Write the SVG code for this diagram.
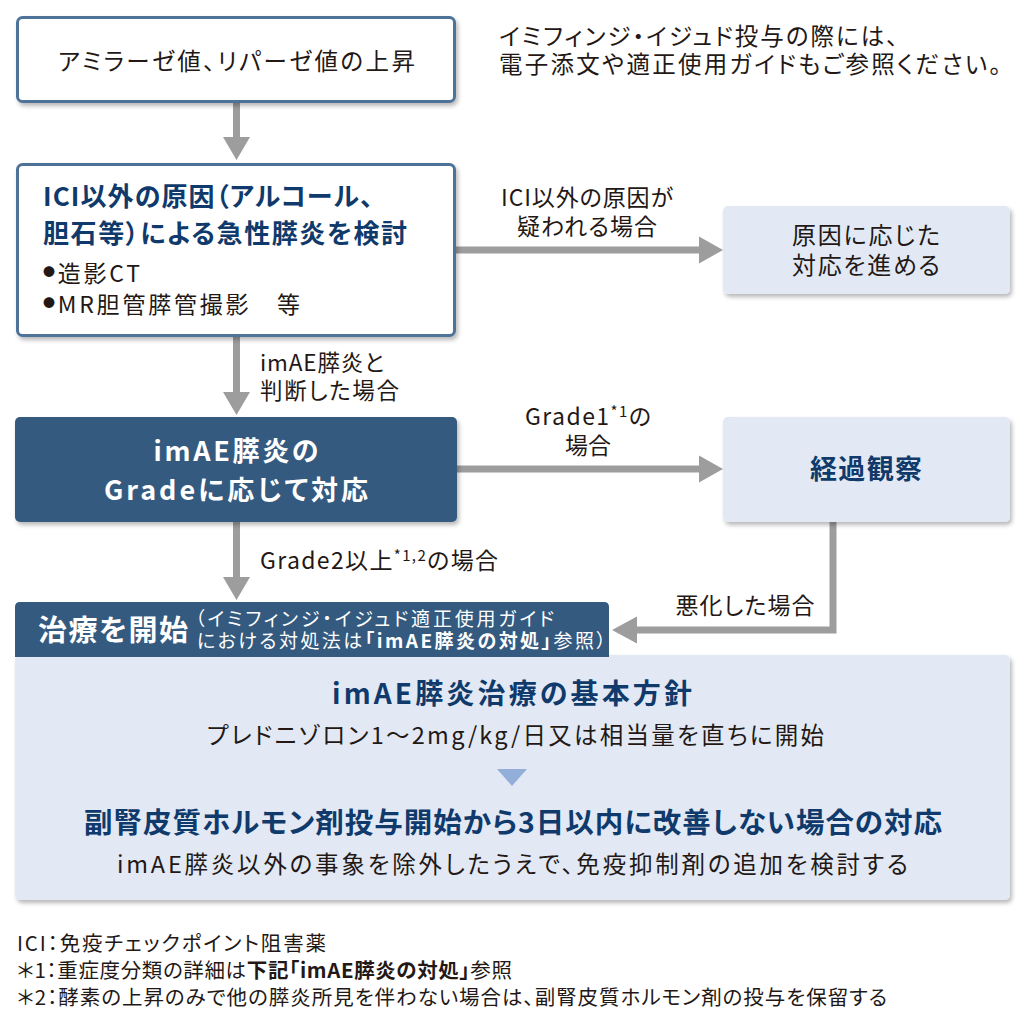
<svg xmlns="http://www.w3.org/2000/svg" width="1029" height="1029" viewBox="0 0 1029 1029">
<defs>
<style>
text{font-family:"Noto Sans CJK JP","Noto Sans",sans-serif;fill:#231815;font-feature-settings:"palt";}
.b{font-weight:700;}
.navy{fill:#0f3a6b;}
.w{fill:#ffffff;}
.m{text-anchor:middle;}
.wb{fill:#ffffff;stroke:#4f7398;stroke-width:3;}
.lt{fill:#e2e9f4;}
.dk{fill:#345a80;}
.arr{fill:#9d9d9d;}
</style>
<filter id="sh" x="-5%" y="-10%" width="110%" height="125%">
<feDropShadow dx="2" dy="3" stdDeviation="2" flood-color="#000" flood-opacity="0.28"/>
</filter>
</defs>
<rect width="1029" height="1029" fill="#fff"/>

<g id="connectors">
<path class="arr" d="M233,103 H240 V137 H250 L236.5,160 L223,137 H233 Z"/>
<path class="arr" d="M233,337 H240 V392 H250 L236.5,415 L223,392 H233 Z"/>
<path class="arr" d="M233,522 H240 V577 H250 L236.5,600 L223,577 H233 Z"/>
<path class="arr" d="M456,246.5 H699 V236.5 L723,250 L699,263.5 V253.5 H456 Z"/>
<path class="arr" d="M457,465.5 H699 V455.5 L723,469 L699,482.5 V472.5 H457 Z"/>
<path class="arr" d="M829.5,520 H836.5 V633.5 H637 V643.5 L612,630 L637,616.5 V626.5 H829.5 Z"/>
<text x="587" y="206" class="m" font-size="23" textLength="172" lengthAdjust="spacing">ICI以外の原因が</text>
<text x="587" y="235" class="m" font-size="23" textLength="140" lengthAdjust="spacing">疑われる場合</text>
<text x="260" y="371" font-size="22.5" textLength="124" lengthAdjust="spacing">imAE膵炎と</text>
<text x="260" y="399" font-size="22.5" textLength="139" lengthAdjust="spacing">判断した場合</text>
<text x="588" y="425" class="m" font-size="23" textLength="126" lengthAdjust="spacing">Grade1<tspan font-size="15" dy="-8">*1</tspan><tspan dy="8">の</tspan></text>
<text x="588" y="454" class="m" font-size="23" textLength="46" lengthAdjust="spacing">場合</text>
<text x="260" y="569" font-size="23" textLength="238" lengthAdjust="spacing">Grade2以上<tspan font-size="15" dy="-8">*1,2</tspan><tspan dy="8">の場合</tspan></text>
<text x="745" y="614" class="m" font-size="23" textLength="139" lengthAdjust="spacing">悪化した場合</text>
</g>

<g id="note-top">
<text x="499" y="45" font-size="23.5" textLength="399" lengthAdjust="spacing">イミフィンジ・イジュド投与の際には、</text>
<text x="499" y="73" font-size="23.5" textLength="502" lengthAdjust="spacing">電子添文や適正使用ガイドもご参照ください。</text>
</g>

<g id="node-amylase">
<rect class="wb" x="17.5" y="17.5" width="437" height="84" rx="5" filter="url(#sh)"/>
<text x="236.5" y="70" class="m" font-size="23.5" textLength="357" lengthAdjust="spacing">アミラーゼ値、リパーゼ値の上昇</text>
</g>

<g id="node-ici">
<rect class="wb" x="17.5" y="164.5" width="437" height="171" rx="5" filter="url(#sh)"/>
<text x="43" y="206" class="b navy" font-size="26" textLength="330" lengthAdjust="spacing">ICI以外の原因（アルコール、</text>
<text x="43" y="243" class="b navy" font-size="26" textLength="364" lengthAdjust="spacing">胆石等）による急性膵炎を検討</text>
<text x="43" y="282" font-size="23" textLength="97" lengthAdjust="spacing" style="font-feature-settings:normal"><tspan font-size="12" dy="-5">●</tspan><tspan dy="5">造影CT</tspan></text>
<text x="43" y="313" font-size="23" textLength="257" lengthAdjust="spacing" style="font-feature-settings:normal"><tspan font-size="12" dy="-5">●</tspan><tspan dy="5">MR胆管膵管撮影　等</tspan></text>
</g>

<g id="node-cause">
<rect class="lt" x="723" y="206" width="287" height="88" rx="5" filter="url(#sh)"/>
<text x="866" y="244" class="m" font-size="24" textLength="148" lengthAdjust="spacing">原因に応じた</text>
<text x="866" y="274" class="m" font-size="24" textLength="148" lengthAdjust="spacing">対応を進める</text>
</g>

<g id="node-grade">
<rect class="dk" x="15" y="417" width="442" height="105" rx="5" filter="url(#sh)"/>
<text x="236" y="461" class="m b w" font-size="27" textLength="165" lengthAdjust="spacing">imAE膵炎の</text>
<text x="236" y="500" class="m b w" font-size="27" textLength="264" lengthAdjust="spacing">Gradeに応じて対応</text>
</g>

<g id="node-observe">
<rect class="lt" x="723" y="417" width="287" height="105" rx="5" filter="url(#sh)"/>
<text x="866" y="479" class="m b navy" font-size="27" textLength="112" lengthAdjust="spacing">経過観察</text>
</g>

<g id="node-treatment">
<rect class="lt" x="15" y="655" width="995" height="245" rx="5" filter="url(#sh)"/>
<path class="dk" d="M15,657 V607 Q15,602 20,602 H604 Q609,602 609,607 V657 Z"/>
<text x="38" y="641" class="b w" font-size="29" textLength="150" lengthAdjust="spacing">治療を開始</text>
<text x="195" y="626" class="w" font-size="19" textLength="359" lengthAdjust="spacing">（イミフィンジ・イジュド適正使用ガイド</text>
<text x="197" y="648" class="w" font-size="19" textLength="409" lengthAdjust="spacing">における対処法は<tspan class="b w">「imAE膵炎の対処」</tspan>参照）</text>
<text x="512" y="704" class="m b navy" font-size="28" textLength="360" lengthAdjust="spacing">imAE膵炎治療の基本方針</text>
<text x="515.5" y="744" class="m" font-size="23.5" textLength="617" lengthAdjust="spacing">プレドニゾロン1～2mg/kg/日又は相当量を直ちに開始</text>
<path d="M497,769 H527 L512,786 Z" fill="#93afd9"/>
<text x="513" y="833" class="m b navy" font-size="28.5" textLength="858" lengthAdjust="spacing">副腎皮質ホルモン剤投与開始から3日以内に改善しない場合の対応</text>
<text x="512.5" y="873" class="m" font-size="23.5" textLength="791" lengthAdjust="spacing">imAE膵炎以外の事象を除外したうえで、免疫抑制剤の追加を検討する</text>
</g>

<g id="footnotes">
<text x="17" y="951" font-size="20.5" textLength="309" lengthAdjust="spacing">ICI：免疫チェックポイント阻害薬</text>
<text x="17" y="978" font-size="20.5" textLength="495" lengthAdjust="spacing">＊1：重症度分類の詳細は<tspan class="b">下記「imAE膵炎の対処」</tspan>参照</text>
<text x="17" y="1005" font-size="20.5" textLength="870" lengthAdjust="spacing">＊2：酵素の上昇のみで他の膵炎所見を伴わない場合は、副腎皮質ホルモン剤の投与を保留する</text>
</g>
</svg>
